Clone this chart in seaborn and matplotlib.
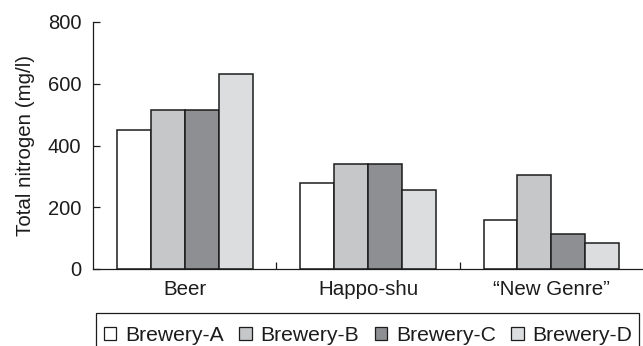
import matplotlib
matplotlib.use("Agg")
import matplotlib.pyplot as plt
from matplotlib.patches import Rectangle
from matplotlib.ticker import FixedLocator
import pandas as pd
import seaborn as sns

# Total nitrogen content (mg/l) by product category and brewery
categories = ["Beer", "Happo-shu", "\u201cNew Genre\u201d"]
breweries = ["Brewery-A", "Brewery-B", "Brewery-C", "Brewery-D"]
brewery_a = [450, 277, 160]
brewery_b = [515, 340, 303]
brewery_c = [515, 340, 113]
brewery_d = [630, 255, 83]
y_ticks = [0, 200, 400, 600, 800]

bar_colors = ["#ffffff", "#c6c7c9", "#8e8f92", "#dcdddf"]
ink = "#1c1c1c"

sns.set_theme(style="ticks")
plt.rcParams["font.family"] = ["Liberation Sans", "DejaVu Sans"]
plt.rcParams["font.size"] = 14.5

rows = []
for name, values in zip(breweries, [brewery_a, brewery_b, brewery_c, brewery_d]):
    for cat, v in zip(categories, values):
        rows.append({"category": cat, "brewery": name, "nitrogen": v})
df = pd.DataFrame(rows)

fig = plt.figure(figsize=(6.43, 3.46), dpi=100)
W, H = 643, 346
ax = fig.add_axes([93 / W, 1 - 269 / H, 1 - 93 / W, (269 - 22) / H])

sns.barplot(
    data=df, x="category", y="nitrogen", hue="brewery",
    order=categories, hue_order=breweries, palette=bar_colors,
    saturation=1, width=0.74, edgecolor=ink, linewidth=1.1,
    errorbar=None, ax=ax,
)

handles, labels = ax.get_legend_handles_labels()
ax.get_legend().remove()

ax.set_xlim(-0.5, 2.5)
ax.set_ylim(0, 800)
ax.set_yticks(y_ticks)
ax.set_xlabel("")
ax.set_ylabel("Total nitrogen (mg/l)", fontsize=14.8, color=ink)
ax.yaxis.set_label_coords(-0.106, 0.5)

sns.despine(ax=ax)
for side in ("left", "bottom"):
    ax.spines[side].set_color(ink)
    ax.spines[side].set_linewidth(0.9)

ax.tick_params(axis="y", direction="in", length=5, width=0.9, color=ink,
               pad=8.5, labelsize=14.5, labelcolor=ink)
ax.tick_params(axis="x", which="major", length=0, pad=8,
               labelsize=14.8, labelcolor=ink)
ax.xaxis.set_minor_locator(FixedLocator([0.5, 1.5]))
ax.tick_params(axis="x", which="minor", direction="in", length=5,
               width=0.9, color=ink)

# Legend row spread across the bottom, inside a plain rectangular frame
leg = fig.legend(
    handles, labels, ncol=4, loc="upper left",
    bbox_to_anchor=(91 / W, 0, (645 - 91) / W, 1 - 313 / H),
    bbox_transform=fig.transFigure, mode="expand",
    fontsize=15.2, frameon=False,
    handlelength=0.6, handleheight=0.6,
    handletextpad=0.4, columnspacing=0.8, borderpad=0.6,
    borderaxespad=0,
)
for t in leg.get_texts():
    t.set_color(ink)
for h in leg.legend_handles:
    h.set_edgecolor(ink)
    h.set_linewidth(0.9)

fig.patches.append(Rectangle(
    (96 / W, -0.05), (639 - 96) / W, 1 - 313 / H + 0.05,
    transform=fig.transFigure, fill=False, edgecolor=ink, linewidth=0.9,
))

fig.savefig("out.png", dpi=100)
